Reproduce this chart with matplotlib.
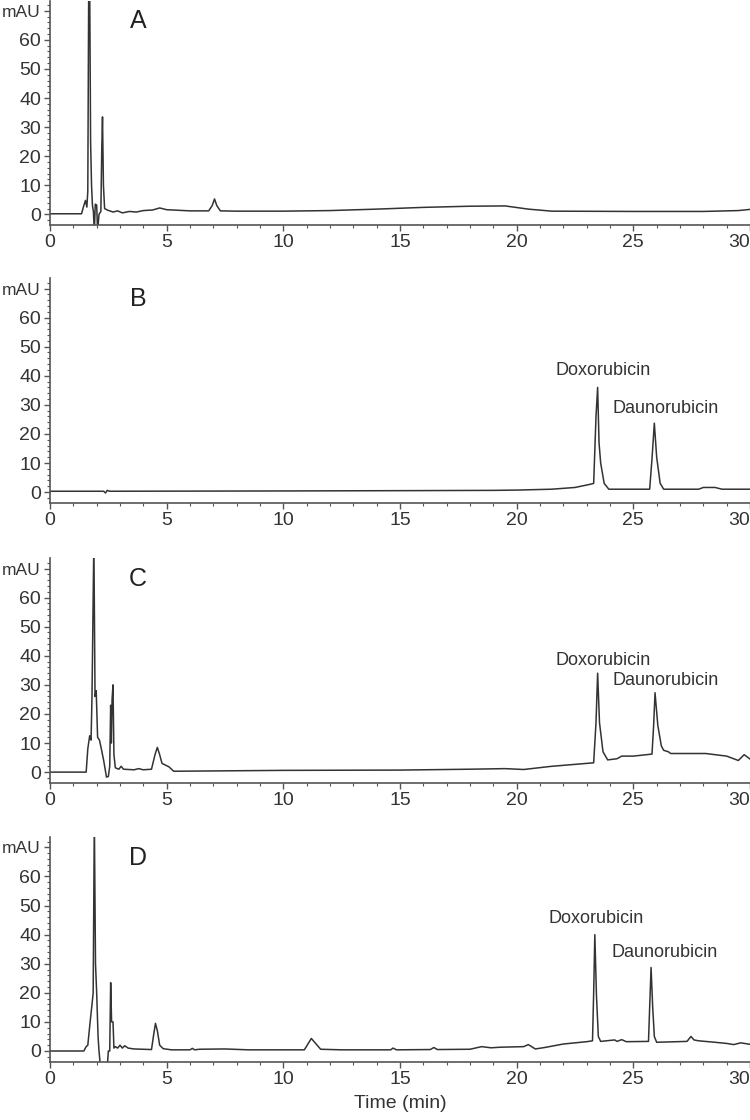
import numpy as np
import matplotlib.pyplot as plt
from matplotlib.ticker import MultipleLocator

# Chromatogram traces: (time in min, absorbance in mAU)
time_a = [0, 1.35, 1.45, 1.52, 1.58, 1.62, 1.66, 1.70, 1.74, 1.78, 1.82, 1.86, 1.9, 1.94, 2.0, 2.04, 2.1,
          2.18, 2.22, 2.25, 2.29, 2.34, 2.45, 2.7, 2.9, 3.1, 3.4, 3.7, 4.0, 4.4, 4.7, 5.0, 5.5, 6.0,
          6.8, 6.95, 7.05, 7.15, 7.3, 8, 10, 12, 14, 16, 18, 19.5, 20.5, 21.5, 25, 28, 29.5, 30]
mau_a = [0.2, 0.2, 3, 4.8, 2.5, 8, 80, 80, 25, 10, 3, 1, -6, 3.5, 3.2, -6, 0,
         1, 23, 33.5, 10, 2, 1.5, 0.8, 1.2, 0.5, 1.0, 0.8, 1.3, 1.5, 2.2, 1.6, 1.4, 1.2,
         1.2, 3, 5.3, 3, 1.2, 1.1, 1.1, 1.3, 1.8, 2.4, 2.8, 2.9, 1.8, 1.1, 1.0, 1.0, 1.3, 1.7]

time_b = [0, 2.3, 2.38, 2.45, 2.55, 10, 15, 19, 20, 21.5, 22.5, 23.1, 23.3, 23.4, 23.47, 23.53,
          23.6, 23.75, 23.95, 24.5, 25.7, 25.8, 25.9, 26.0, 26.15, 26.3, 27.8, 28.0, 28.5, 28.8, 30]
mau_b = [0.3, 0.3, -0.3, 0.6, 0.3, 0.4, 0.5, 0.6, 0.7, 1.0, 1.6, 2.6, 3.0, 26, 36, 17,
         10, 3, 1.0, 1.0, 1.0, 11.5, 23.7, 12, 3, 1.0, 1.0, 1.6, 1.6, 1.0, 1.0]

time_c = [0, 1.55, 1.62, 1.7, 1.76, 1.8, 1.88, 1.93, 1.98, 2.04, 2.12, 2.2, 2.3, 2.42, 2.5, 2.56,
          2.6, 2.63, 2.66, 2.7, 2.74, 2.8, 2.95, 3.05, 3.15, 3.6, 3.8, 4.0, 4.35, 4.5, 4.6, 4.7,
          4.8, 4.95, 5.1, 5.3, 10, 15, 18, 19.5, 20.3, 21.5, 23.3, 23.4, 23.47, 23.55, 23.7, 23.9,
          24.3, 24.5, 25.0, 25.8, 25.87, 25.93, 26.05, 26.2, 26.3, 26.5, 26.6, 28.1, 29.0, 29.5,
          29.75, 30]
mau_c = [0, 0, 8, 12.5, 11, 26, 80, 26, 28, 12, 11, 8, 4, -1.7, -1.5, 2,
         23, 10, 25, 30, 6, 1.5, 1, 2, 1, 0.8, 1.2, 0.8, 1.0, 6, 8.5, 6,
         3, 2.4, 1.8, 0.3, 0.6, 0.7, 1.0, 1.2, 0.9, 2.0, 3.2, 17, 34, 17, 7, 4.2,
         4.6, 5.5, 5.5, 6.2, 16, 27.3, 16, 9, 7.5, 7, 6.4, 6.4, 5.5, 4.0,
         6.0, 4.5]

time_d = [0, 1.45, 1.55, 1.62, 1.72, 1.8, 1.85, 1.9, 1.95, 2.0, 2.06, 2.1, 2.17, 2.45, 2.5, 2.56,
          2.6, 2.64, 2.7, 2.74, 2.8, 2.9, 3.0, 3.1, 3.2, 3.35, 3.6, 4.35, 4.45, 4.52, 4.6, 4.7,
          4.85, 5.2, 6.0, 6.1, 6.2, 6.4, 7.5, 8.5, 10.9, 11.2, 11.6, 12.5, 14.6, 14.7, 14.85,
          16.3, 16.45, 16.6, 18.0, 18.5, 18.9, 19.3, 20.3, 20.5, 20.8, 21.2, 22.0, 23.0, 23.25,
          23.3, 23.35, 23.42, 23.5, 23.6, 24.2, 24.3, 24.5, 24.7, 25.65, 25.7, 25.76, 25.83,
          25.9, 26.0, 27.3, 27.47, 27.6, 27.8, 28.5, 29.0, 29.3, 29.6, 30]
mau_d = [0, 0, 1.5, 2, 10, 16, 20, 80, 30, 20, 5, 0, -6, -6, 0, 0,
         23.5, 10, 10, 1, 1.5, 1.0, 2, 1, 1.8, 1.0, 0.7, 0.5, 6, 9.5, 7, 2,
         0.8, 0.4, 0.4, 0.9, 0.4, 0.6, 0.7, 0.4, 0.4, 4.3, 0.6, 0.4, 0.4, 1.0, 0.4,
         0.5, 1.2, 0.5, 0.6, 1.5, 1.1, 1.3, 1.5, 2.2, 0.7, 1.2, 2.4, 3.2, 3.5,
         20, 40, 19, 5, 3.3, 3.8, 3.3, 3.9, 3.2, 3.3, 15, 28.7, 15,
         5, 3.0, 3.3, 5.0, 3.8, 3.5, 3.0, 2.6, 2.2, 2.8, 2.3]

panel_letters = ['A', 'B', 'C', 'D']
# peak labels: (text, time, mAU) per panel
peak_labels = [
    [],
    [('Doxorubicin', 23.7, 41.8), ('Daunorubicin', 26.4, 28.8)],
    [('Doxorubicin', 23.7, 38.4), ('Daunorubicin', 26.4, 31.5)],
    [('Doxorubicin', 23.4, 45.5), ('Daunorubicin', 26.35, 33.9)],
]
traces = [(time_a, mau_a), (time_b, mau_b), (time_c, mau_c), (time_d, mau_d)]

y_ticks = [0, 10, 20, 30, 40, 50, 60, 70]
y_ticklabels = ['0', '10', '20', '30', '40', '50', '60', 'mAU']
x_ticks = [0, 5, 10, 15, 20, 25, 30]

plt.rcParams['font.family'] = 'Liberation Sans'
line_col = '#333333'
axis_col = '#555555'

fig = plt.figure(figsize=(7.5, 11.2), dpi=100)

# axes boxes in figure fraction (left, bottom, width, height)
bottoms = [0.799, 0.551, 0.301, 0.052]
for i, (t, y) in enumerate(traces):
    ax = fig.add_axes([50 / 750, bottoms[i], 700 / 750, 0.2005])
    ax.plot(t, y, color=line_col, lw=1.1)
    ax.set_xlim(0, 29.97)
    ax.set_ylim(-3.7, 73.5)

    for s in ['top', 'right']:
        ax.spines[s].set_visible(False)
    for s in ['left', 'bottom']:
        ax.spines[s].set_color(axis_col)
        ax.spines[s].set_linewidth(1.2)

    ax.set_yticks(y_ticks)
    ax.set_yticklabels(y_ticklabels)
    ax.yaxis.set_minor_locator(MultipleLocator(2))
    ax.set_xticks(x_ticks)
    ax.set_xticklabels([str(v) for v in x_ticks])
    ax.xaxis.set_minor_locator(MultipleLocator(1))
    ax.get_xticklabels()[-1].set_ha('right')

    ax.tick_params(which='major', length=4, width=1, color=axis_col,
                   labelsize=14, labelcolor='#333333', pad=2.5)
    ax.tick_params(which='minor', length=2, width=0.8, color=axis_col)
    ax.get_yticklabels()[-1].set_fontsize(12.5)

    ax.text(3.77, 66.5, panel_letters[i], fontsize=18, color='#222222',
            ha='center', va='center')
    for name, tx, ty in peak_labels[i]:
        ax.text(tx, ty, name, fontsize=13, color='#333333',
                ha='center', va='center')

    if i == 3:
        ax.set_xlabel('Time (min)', fontsize=14, color='#333333', labelpad=5)

fig.savefig('out.png', dpi=100)
